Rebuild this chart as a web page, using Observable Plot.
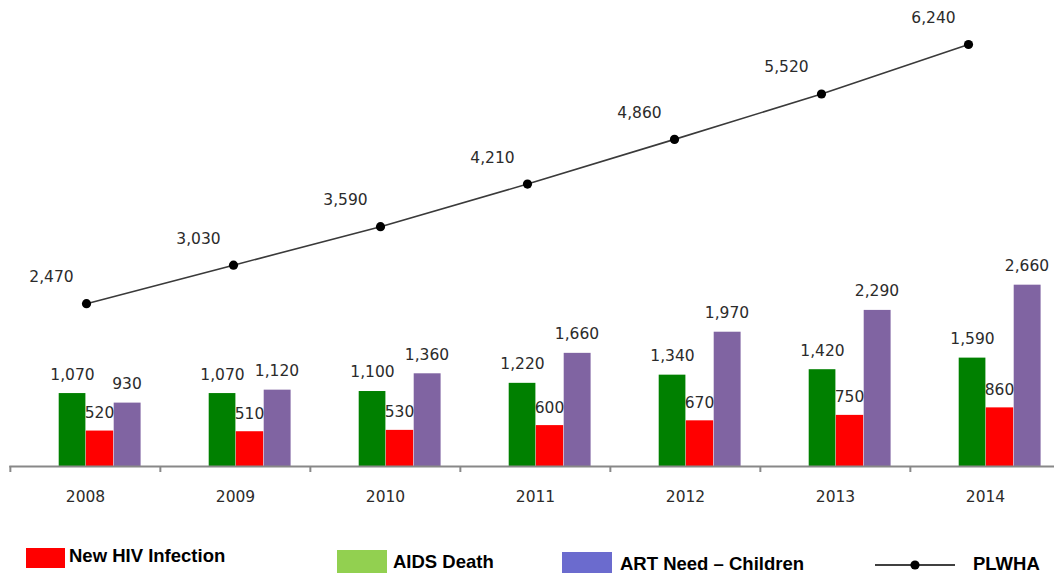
<!DOCTYPE html>
<html><head><meta charset="utf-8">
<script src="https://cdn.jsdelivr.net/npm/d3@7"></script>
<script src="https://cdn.jsdelivr.net/npm/@observablehq/plot@0.6"></script>
<style>
body{margin:0;background:#fff;}
#wrap{position:relative;width:1054px;height:573px;overflow:hidden;background:#fff;}
#wrap > svg{position:absolute;left:0;top:0;overflow:visible;}
.sw{position:absolute;}
.lt{position:absolute;font-family:"Liberation Sans",Arial,sans-serif;font-weight:bold;font-size:18.5px;line-height:20px;color:#000;white-space:nowrap;}
</style></head><body>
<div id="wrap"></div>
<script>
const years = ["2008","2009","2010","2011","2012","2013","2014"];
const newHIV = [520,510,530,600,670,750,860];
const aidsDeath = [1070,1070,1100,1220,1340,1420,1590];
const artChildren = [930,1120,1360,1660,1970,2290,2660];
const plwha = [2470,3030,3590,4210,4860,5520,6240];
const seriesNames = ["AIDS Death","New HIV Infection","ART Need – Children","PLWHA"];

const fmt = d3.format(",");
const rows = (vals) => years.map((y,i)=>({year:y, value:vals[i]}));
const W = 1054, H = 535;
const labelFont = "DejaVu Sans, Verdana, sans-serif";
const FS = 15.5;

const barPlot = Plot.plot({
  width: W, height: H,
  marginTop: 57, marginBottom: 69, marginLeft: 9.3, marginRight: 0,
  x: {type:"band", domain: years, range:[9.3, 1061.4], padding:0, axis:null},
  y: {domain:[0,6000], axis:null},
  style: {fontFamily: labelFont, fontSize:FS+"px", background:"transparent"},
  marks: [
    Plot.barY(rows(aidsDeath), {x:"year", y:"value", fill:"#008000", insetLeft:48.7, insetRight:74.6}),
    Plot.barY(rows(newHIV), {x:"year", y:"value", fill:"#FF0000", insetLeft:75.8, insetRight:46.8}),
    Plot.barY(rows(artChildren), {x:"year", y:"value", fill:"#8064A2", insetLeft:103.7, insetRight:19.4}),
    Plot.text(rows(aidsDeath), {x:"year", y:"value", text:d=>fmt(d.value), dx:-13, dy:-19, fill:"#2b2b2b", fontSize:FS}),
    Plot.text(rows(newHIV), {x:"year", y:"value", text:d=>fmt(d.value), dx:14, dy:-18, fill:"#2b2b2b", fontSize:FS}),
    Plot.text(rows(artChildren), {x:"year", y:"value", text:d=>fmt(d.value), dx:41.5, dy:-19, fill:"#2b2b2b", fontSize:FS}),
    Plot.ruleY([0], {stroke:"#888", strokeWidth:2}),
    Plot.ruleX(years, {x:d=>d, y1:0, y2:0, insetTop:6, dx:-75.15, stroke:"#888", strokeWidth:2}),
    Plot.text(years, {x:d=>d, frameAnchor:"bottom", dy:35, text:d=>d, fill:"#2b2b2b", fontSize:FS})
  ]
});

const linePlot = Plot.plot({
  width: W, height: H,
  marginTop: 44, marginBottom: 62, marginLeft: 0, marginRight: 0,
  x: {type:"point", domain: years, range:[84, 969], padding:0, axis:null},
  y: {domain:[0,6240], axis:null},
  style: {fontFamily: labelFont, fontSize:FS+"px", background:"transparent"},
  marks: [
    Plot.line(rows(plwha), {x:"year", y:"value", stroke:"#3a3a3a", strokeWidth:1.6}),
    Plot.dot(rows(plwha), {x:"year", y:"value", r:4.6, fill:"#000", stroke:"none"}),
    Plot.text(rows(plwha), {x:"year", y:"value", text:d=>fmt(d.value), dx:-35, dy:-26.5, fill:"#2b2b2b", fontSize:FS})
  ]
});

const wrap = document.getElementById("wrap");
wrap.appendChild(barPlot);
wrap.appendChild(linePlot);

// Legend (HTML, below the chart area)
function sw(left, top, w, h, color){const d=document.createElement("div");d.className="sw";Object.assign(d.style,{left:left+"px",top:top+"px",width:w+"px",height:h+"px",background:color});wrap.appendChild(d);}
function lt(left, top, text){const d=document.createElement("div");d.className="lt";d.style.left=left+"px";d.style.top=top+"px";d.textContent=text;wrap.appendChild(d);}
sw(26, 548, 39, 20, "#FF0000"); lt(69, 546, seriesNames[1]);
sw(337, 550, 50, 24, "#92D050"); lt(393, 552, seriesNames[0]);
sw(562, 552, 50, 22, "#6B6BCE"); lt(620, 554, seriesNames[2]);
const ls = document.createElementNS("http://www.w3.org/2000/svg","svg");
ls.setAttribute("width", 90); ls.setAttribute("height", 14);
Object.assign(ls.style, {position:"absolute", left:"870px", top:"558px"});
ls.innerHTML = '<line x1="5" x2="85" y1="7" y2="7" stroke="#000" stroke-width="1.3"/><circle cx="45" cy="7" r="4.6" fill="#000"/>';
wrap.appendChild(ls);
lt(973, 554, seriesNames[3]);
</script>
</body></html>
